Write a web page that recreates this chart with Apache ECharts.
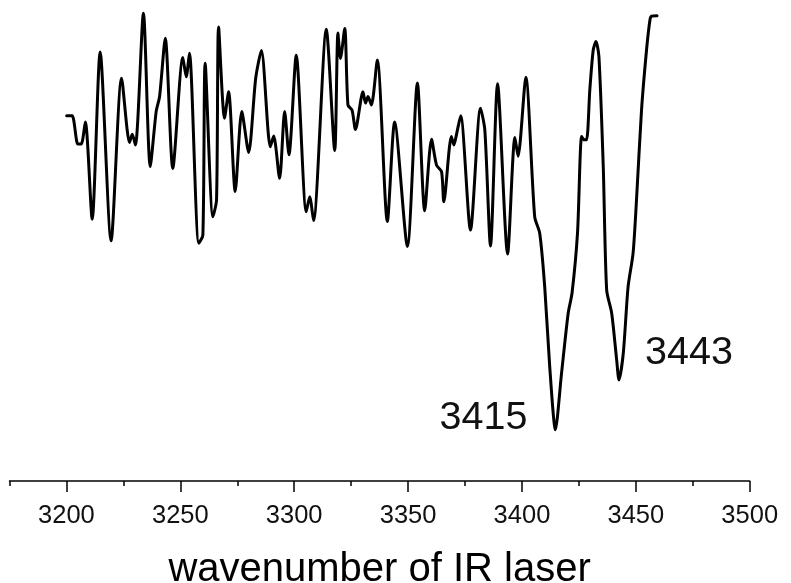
<!DOCTYPE html>
<html>
<head>
<meta charset="utf-8">
<script src="https://cdn.jsdelivr.net/npm/echarts@6/dist/echarts.min.js"></script>
<style>html,body{margin:0;padding:0;background:#fff}#c{width:791px;height:583px}</style>
</head>
<body>
<div id="c"></div>
<script>
// wavenumber (cm^-1)
var wavenumbers = [3200.1,3202.5,3205.0,3206.5,3208.3,3211.3,3214.8,3219.6,3224.2,3227.7,3228.9,3230.3,3233.8,3236.8,3239.4,3240.9,3243.4,3246.7,3251.1,3252.6,3254.0,3258.1,3259.9,3260.9,3264.3,3265.9,3266.8,3269.4,3271.2,3274.1,3277.0,3280.0,3283.1,3285.6,3289.5,3291.0,3293.6,3295.8,3297.7,3300.9,3305.3,3306.8,3308.5,3314.1,3317.8,3319.2,3320.3,3322.2,3323.6,3325.4,3326.9,3330.2,3331.3,3332.4,3333.9,3336.5,3340.9,3344.1,3349.7,3354.1,3357.3,3360.3,3362.5,3364.7,3365.7,3369.0,3370.1,3371.5,3373.1,3377.4,3381.8,3383.7,3386.2,3389.3,3393.7,3396.9,3398.3,3401.7,3405.6,3407.8,3410.0,3412.2,3414.7,3417.4,3420.3,3422.0,3424.4,3426.2,3427.3,3428.4,3429.8,3431.3,3432.5,3433.8,3435.7,3437.2,3439.4,3441.6,3442.6,3444.5,3446.6,3448.8,3450.3,3452.5,3454.7,3456.2,3456.9,3459.3];
// signal (arbitrary units)
var signal = [77.7,77.7,71.7,71.7,76.4,55.7,91.3,51.1,85.7,72.0,73.8,71.5,99.5,66.9,78.6,81.8,94.2,66.5,90.1,86.0,91.0,50.6,52.3,88.9,56.2,59.8,96.6,77.2,82.8,61.6,78.6,69.9,85.7,91.6,71.1,73.4,64.4,78.6,69.4,90.6,57.3,60.5,55.4,96.1,70.3,95.3,89.9,96.3,80.0,78.9,74.8,82.8,80.4,81.8,80.0,89.6,55.2,76.4,49.9,84.7,57.5,72.7,67.2,65.8,59.4,73.3,71.5,74.3,77.7,53.4,79.3,74.7,50.0,84.5,48.3,73.1,69.1,85.9,56.2,52.7,41.3,24.3,10.9,23.0,35.7,40.0,52.8,73.3,72.6,72.6,83.2,91.7,93.5,90.3,66.9,40.6,35.7,25.7,21.5,27.2,41.3,48.5,59.8,78.9,91.7,98.1,98.9,99.0];
var majorTicks = [3200,3250,3300,3350,3400,3450,3500];
var minorTicks = [3175,3225,3275,3325,3375,3425,3475];
var peakLabels = ['3415','3443'];
var peakWavenumbers = [3414.7,3442.6];
var peakSignals = [10.9,21.5];
var xName = 'wavenumber of IR laser';

var seriesData = wavenumbers.map(function(w,i){return [w, signal[i]];});
var labelOffsets = [[-72,-12],[70,-27]];
var mp = peakLabels.map(function(t,i){
  return {name:t, coord:[peakWavenumbers[i], peakSignals[i]], value:t,
    label:{offset:labelOffsets[i]}};
});
var font = '"Liberation Sans", Arial, sans-serif';
var chart = echarts.init(document.getElementById('c'), null, {renderer:'canvas'});
chart.setOption({
  backgroundColor:'#fff',
  animation:false,
  grid:{left:9.5, right:41.3, top:11, height:470, containLabel:false, outerBoundsMode:'none'},
  xAxis:[{
    type:'value', min:3175, max:3500,
    axisLine:{show:true, lineStyle:{color:'#000', width:1.5}},
    axisTick:{show:true, customValues:majorTicks, length:11, inside:false, lineStyle:{color:'#000', width:1.5}},
    axisLabel:{show:true, customValues:majorTicks, margin:22, color:'#111', fontSize:25.5, fontFamily:font,
      formatter:function(v){return String(v);}},
    splitLine:{show:false},
    name:xName, nameLocation:'middle', nameGap:69,
    nameTextStyle:{color:'#000', fontSize:40, fontFamily:font}
  },{
    type:'value', min:3175, max:3500, position:'bottom',
    axisLine:{show:false},
    axisTick:{show:true, customValues:minorTicks, length:5, lineStyle:{color:'#000', width:1.5}},
    axisLabel:{show:false},
    splitLine:{show:false}
  }],
  yAxis:{type:'value', min:0, max:100, show:false, splitLine:{show:false}},
  series:[{
    type:'line', data:seriesData, xAxisIndex:0, showSymbol:false, smooth:0.25,
    lineStyle:{color:'#000', width:3, join:'round', cap:'round'},
    markPoint:{
      symbol:'circle', symbolSize:0,
      label:{show:true, formatter:'{b}', color:'#111', fontSize:39.5, fontFamily:font},
      data:mp
    }
  }]
});
</script>
</body>
</html>
